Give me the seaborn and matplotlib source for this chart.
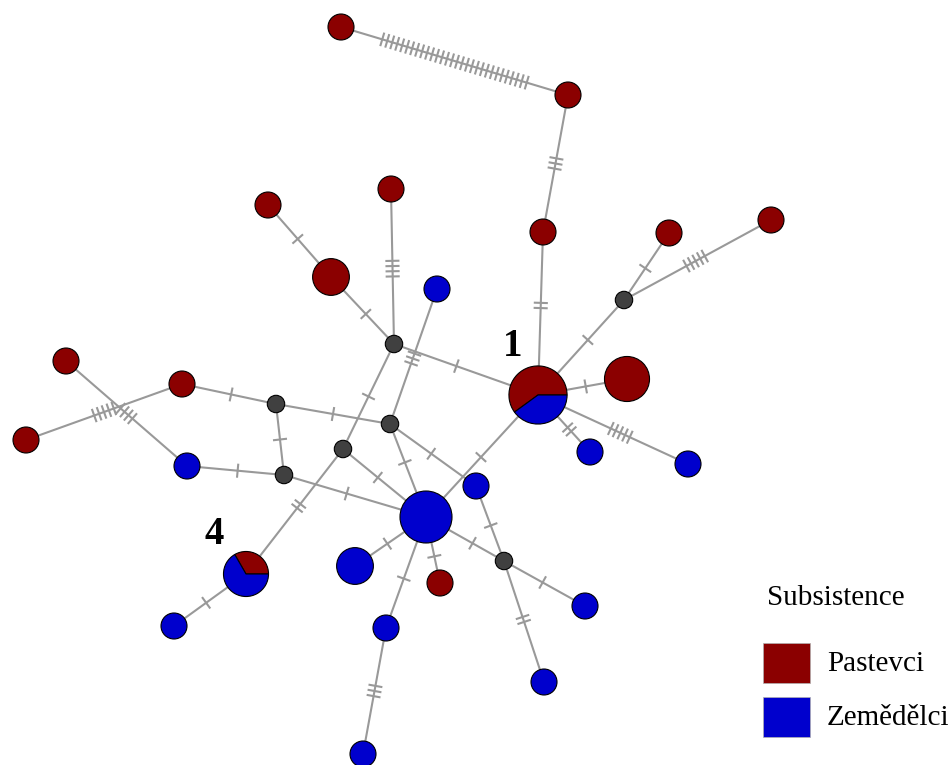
import numpy as np
import pandas as pd
import matplotlib
matplotlib.use("Agg")
import matplotlib.pyplot as plt
import seaborn as sns
from matplotlib.patches import Wedge, Rectangle

# haplotypes: layout position (px), counts per group
hap_names = ["h01", "h02", "h03", "h04", "h05", "h06", "h07", "h08", "h09", "h10",
             "h11", "h12", "h13", "h14", "h15", "h16", "h17", "h18", "h19", "h20",
             "h21", "h22", "h23", "h24", "h25", "h26", "h27",
             "mv1", "mv2", "mv3", "mv4", "mv5", "mv6", "mv7"]
hap_x = [341, 568, 543, 391, 268, 331, 437, 669, 771, 538,
         627, 590, 688, 66, 182, 26, 187, 426, 476, 355,
         440, 585, 386, 544, 363, 246, 174,
         624, 394, 276, 390, 343, 284, 504]
hap_y = [27, 95, 232, 189, 205, 277, 289, 233, 220, 395,
         379, 452, 464, 361, 384, 440, 466, 517, 486, 566,
         583, 606, 628, 682, 754, 574, 626,
         300, 344, 404, 424, 449, 475, 561]
pastevci = [1, 1, 1, 1, 1, 2, 0, 1, 1, 3,
            3, 0, 0, 1, 1, 1, 0, 0, 0, 0,
            1, 0, 0, 0, 0, 1, 0,
            0, 0, 0, 0, 0, 0, 0]
zemedelci = [0, 0, 0, 0, 0, 0, 1, 0, 0, 2,
             0, 1, 1, 0, 0, 0, 1, 4, 1, 2,
             0, 1, 1, 1, 1, 2, 1,
             0, 0, 0, 0, 0, 0, 0]

# links: (from, to, mutations)
edges = [("h01", "h02", 30), ("h02", "h03", 3), ("h03", "h10", 2), ("h05", "h06", 1),
         ("h06", "mv2", 1), ("h04", "mv2", 4), ("h07", "mv4", 3), ("mv2", "h10", 1),
         ("mv2", "mv5", 1), ("mv5", "h26", 2), ("h26", "h27", 1), ("h10", "mv1", 1),
         ("mv1", "h08", 1), ("mv1", "h09", 5), ("h10", "h11", 1), ("h10", "h12", 2),
         ("h10", "h13", 5), ("h10", "h18", 1), ("h14", "h17", 4), ("h16", "h15", 5),
         ("h15", "mv3", 1), ("mv3", "mv4", 1), ("mv3", "mv6", 1), ("h17", "mv6", 1),
         ("mv6", "h18", 1), ("mv5", "h18", 1), ("mv4", "h18", 1), ("mv4", "h19", 1),
         ("h19", "mv7", 1), ("h18", "mv7", 1), ("h18", "h20", 1), ("h18", "h21", 1),
         ("h18", "h23", 1), ("mv7", "h22", 1), ("mv7", "h24", 2), ("h23", "h25", 3)]

labels = {"h10": "1", "h26": "4"}
groups = ["Pastevci", "Zemědělci"]
colors = {"Pastevci": "#8b0000", "Zemědělci": "#0000cd", "median": "#404040"}

df = pd.DataFrame({"name": hap_names, "x": hap_x, "y": hap_y,
                   "Pastevci": pastevci, "Zemědělci": zemedelci})
df["n"] = df["Pastevci"] + df["Zemědělci"]
df["kind"] = np.where(df["n"] == 0, "median",
                      np.where(df["Zemědělci"] == 0, "Pastevci", "Zemědělci"))
df["r"] = np.where(df["n"] == 0, 8.7, 13 * np.sqrt(df["n"].clip(lower=1)))
pos = df.set_index("name")

fig = plt.figure(figsize=(9.51, 7.65), dpi=100)
ax = fig.add_axes([0, 0, 1, 1])
ax.set_xlim(0, 951)
ax.set_ylim(765, 0)
ax.axis("off")

# edges with mutation ticks
for a, b, k in edges:
    p0 = pos.loc[a, ["x", "y"]].to_numpy(float)
    p1 = pos.loc[b, ["x", "y"]].to_numpy(float)
    ax.plot([p0[0], p1[0]], [p0[1], p1[1]], color="#999999", lw=1.5, zorder=1)
    d = p1 - p0
    u = d / np.hypot(*d)
    perp = np.array([-u[1], u[0]])
    s0 = p0 + u * pos.loc[a, "r"]
    s1 = p1 - u * pos.loc[b, "r"]
    mid = (s0 + s1) / 2
    for i in range(k):
        c = mid + u * (i - (k - 1) / 2) * 5.2
        t0 = c - perp * 6
        t1 = c + perp * 6
        ax.plot([t0[0], t1[0]], [t0[1], t1[1]], color="#999999", lw=1.5, zorder=1)

# single-group nodes and median vectors
single = df[~((df["Pastevci"] > 0) & (df["Zemědělci"] > 0))]
size_map = {n: (2 * r * 0.72) ** 2 for n, r in zip(df["n"], df["r"])}
sns.scatterplot(data=single, x="x", y="y", hue="kind", size="n", sizes=size_map,
                palette=colors, edgecolor="black", linewidth=0.8, legend=False,
                ax=ax, zorder=3)

# mixed haplotypes as pies
mixed = df[(df["Pastevci"] > 0) & (df["Zemědělci"] > 0)]
for _, row in mixed.iterrows():
    frac = row["Pastevci"] / row["n"]
    red_span = 360 * frac
    ax.add_patch(Wedge((row["x"], row["y"]), row["r"], 360 - red_span, 360,
                       facecolor=colors["Pastevci"], edgecolor="black", lw=0.8, zorder=4))
    ax.add_patch(Wedge((row["x"], row["y"]), row["r"], 0, 360 - red_span,
                       facecolor=colors["Zemědělci"], edgecolor="black", lw=0.8, zorder=4))

# haplotype numbers
label_off = {"h10": (-25, -49), "h26": (-32, -40)}
for h, txt in labels.items():
    dx, dy = label_off[h]
    ax.text(pos.loc[h, "x"] + dx, pos.loc[h, "y"] + dy, txt, fontsize=28,
            fontweight="bold", family="Liberation Serif", ha="center", va="center")

# legend
ax.text(767, 605, "Subsistence", fontsize=21, family="Liberation Serif", va="baseline")
for i, g in enumerate(groups):
    y0 = 643 + i * 54
    ax.add_patch(Rectangle((763, y0), 47, 40, facecolor=colors[g],
                           edgecolor="#b0b0b0", lw=0.5, zorder=3))
    ax.text(827, y0 + 28, g, fontsize=21, family="Liberation Serif", va="baseline")

fig.savefig("out.png", dpi=100)
